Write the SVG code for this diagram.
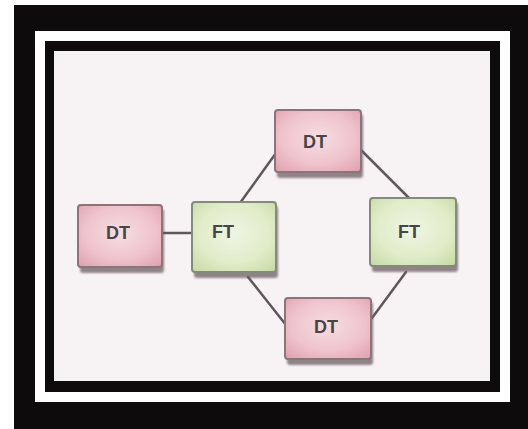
<svg xmlns="http://www.w3.org/2000/svg" width="528" height="429" viewBox="0 0 528 429">
  <defs>
    <radialGradient id="pinkFill" cx="0.5" cy="0.45" r="0.7">
      <stop offset="0" stop-color="#f6dde2"/>
      <stop offset="0.6" stop-color="#efc3cd"/>
      <stop offset="1" stop-color="#dfa3b1"/>
    </radialGradient>
    <radialGradient id="greenFill" cx="0.5" cy="0.45" r="0.7">
      <stop offset="0" stop-color="#eef5e3"/>
      <stop offset="0.6" stop-color="#e1ecc9"/>
      <stop offset="1" stop-color="#c9dba8"/>
    </radialGradient>
    <filter id="soft" x="-10%" y="-10%" width="120%" height="130%">
      <feGaussianBlur stdDeviation="0.8"/>
    </filter>
  </defs>
  <style>
    .frame { fill: #0e0b0c; }
    .band { fill: #ffffff; }
    .paper { fill: #f7f2f3; }
    .shadow { fill: #6d5f63; opacity: 0.75; filter: url(#soft); }
    .dt { fill: url(#pinkFill); stroke: #8c747a; stroke-width: 2; }
    .ft { fill: url(#greenFill); stroke: #858b7c; stroke-width: 2; }
    .label { font-family: "Liberation Sans", Arial, sans-serif; font-weight: bold; font-size: 18px; fill: #4a4446; text-anchor: middle; dominant-baseline: central; }
    .link { stroke: #5f585a; stroke-width: 2.5; fill: none; stroke-linecap: round; }
  </style>

  <!-- page and frame -->
  <rect x="0" y="0" width="528" height="429" fill="#ffffff"/>
  <rect class="frame" x="14" y="5" width="514" height="424"/>
  <rect class="band" x="35" y="31" width="475" height="371"/>
  <rect class="frame" x="45" y="41" width="455" height="351"/>
  <rect class="paper" x="54" y="51" width="436" height="330"/>

  <!-- connectors -->
  <g id="connectors">
    <line class="link" x1="163" y1="233" x2="192" y2="233"/>
    <line class="link" x1="240" y1="203" x2="276" y2="153"/>
    <line class="link" x1="361" y1="150" x2="410" y2="199"/>
    <line class="link" x1="406" y1="272" x2="372" y2="318"/>
    <line class="link" x1="248" y1="277" x2="286" y2="325"/>
  </g>

  <!-- nodes -->
  <g id="dt-left">
    <rect class="shadow" x="80" y="209" width="84" height="64" rx="3"/>
    <rect class="dt" x="78" y="205" width="84" height="62" rx="3"/>
    <text class="label" x="118" y="233">DT</text>
  </g>
  <g id="ft-left">
    <rect class="shadow" x="194" y="206" width="84" height="72" rx="3"/>
    <rect class="ft" x="192" y="202" width="84" height="70" rx="3"/>
    <text class="label" x="223" y="232">FT</text>
  </g>
  <g id="dt-top">
    <rect class="shadow" x="277" y="114" width="86" height="64" rx="3"/>
    <rect class="dt" x="275" y="110" width="86" height="62" rx="3"/>
    <text class="label" x="315" y="142">DT</text>
  </g>
  <g id="ft-right">
    <rect class="shadow" x="372" y="202" width="86" height="70" rx="3"/>
    <rect class="ft" x="370" y="198" width="86" height="68" rx="3"/>
    <text class="label" x="409" y="232">FT</text>
  </g>
  <g id="dt-bottom">
    <rect class="shadow" x="287" y="302" width="86" height="63" rx="3"/>
    <rect class="dt" x="285" y="298" width="86" height="61" rx="3"/>
    <text class="label" x="326" y="327">DT</text>
  </g>
</svg>
